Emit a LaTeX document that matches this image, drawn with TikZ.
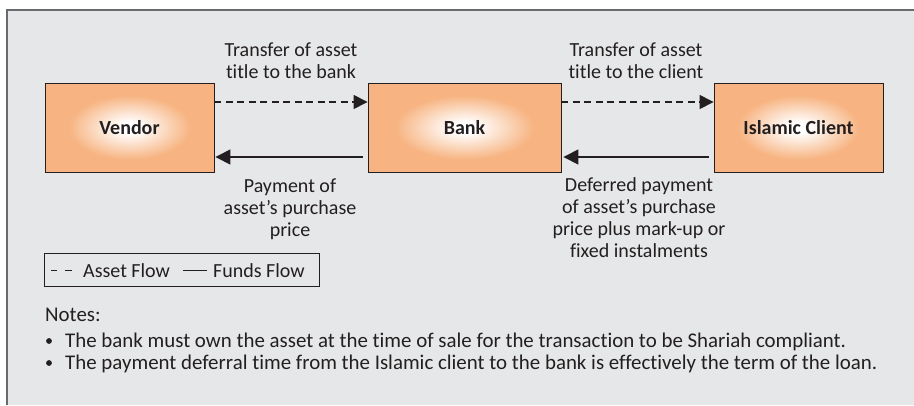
\documentclass[tikz,border=0pt]{standalone}
\usepackage{fontspec}
\setmainfont{Carlito}[Ligatures={TeX,NoCommon}]
\usetikzlibrary{arrows.meta}
\definecolor{panelgray}{RGB}{230,231,232}
\definecolor{panelline}{RGB}{105,106,109}
\definecolor{boxorange}{RGB}{247,180,130}
\definecolor{ink}{RGB}{35,31,32}
\pgfdeclareradialshading{boxshade}{\pgfpoint{0bp}{0bp}}{color(0bp)=(white); color(3bp)=(white); color(18bp)=(boxorange); color(25bp)=(boxorange); color(50bp)=(boxorange)}
\tikzset{
  party/.style={draw=ink, line width=0.8pt, shading=boxshade, minimum height=89pt, inner sep=0pt,
    font=\fontsize{20}{22}\selectfont\bfseries, text=ink},
  lbl/.style={align=center, inner sep=0pt, anchor=base, font=\fontsize{20}{21.7}\selectfont, text=ink},
  asset/.style={draw=ink, line width=1.1pt, dash pattern=on 7pt off 4.5pt, -{Triangle[length=14pt,width=14pt]}},
  funds/.style={draw=ink, line width=1.1pt, -{Triangle[length=15pt,width=15pt]}},
  note/.style={anchor=base west, inner sep=0pt, font=\fontsize{20}{22}\selectfont, text=ink},
  bignote/.style={note, font=\fontsize{20.9}{22}\selectfont}
}
\begin{document}
\begin{tikzpicture}[x=1pt,y=-1pt]
\useasboundingbox (0,0) rectangle (914,405);
% panel
\fill[panelgray] (7,10) rectangle (914,405);
\draw[panelline, line width=1.3pt] (7,405) -- (7,10);
\draw[panelline, line width=2.2pt] (6.35,10) -- (914,10);
% parties
\node[party, minimum width=169pt] (vendor) at (129.5,127.5) {Vendor};
\node[party, minimum width=193pt] (bank) at (464.5,127.5) {Bank};
\node[party, minimum width=169pt] (client) at (798.5,127.5) {Islamic Client};
% flows
\draw[asset] ([yshift=25.5pt]vendor.east) -- ([yshift=25.5pt]bank.west);
\draw[asset] ([yshift=25.5pt]bank.east) -- ([yshift=25.5pt]client.west);
\coordinate (f1s) at ([xshift=-5pt,yshift=-29.5pt]bank.west);
\coordinate (f2s) at ([xshift=-5pt,yshift=-29.5pt]client.west);
\draw[funds] (f1s) -- ([xshift=1pt,yshift=-29.5pt]vendor.east);
\draw[funds] (f2s) -- ([xshift=2pt,yshift=-29.5pt]bank.east);
% labels (anchor base = last line baseline)
\node[lbl] (l1) at (291,78) {Transfer of asset\\title to the bank};
\node[lbl] (l2) at (636,78) {Transfer of asset\\title to the client};
\node[lbl] (l3) at (290,236) {Payment of\\asset’s purchase\\price};
\node[lbl] (l4) at (639,257) {Deferred payment\\of asset’s purchase\\price plus mark-up or\\fixed instalments};
% legend
\node[draw=ink, line width=0.8pt, minimum width=275pt, minimum height=33pt, inner sep=0pt] (legend) at (181.5,269.5) {};
\draw[ink, line width=0.9pt] (51,270.5) -- (57,270.5) (65,270.5) -- (72,270.5);
\node[note] (lasset) at (83,277) {Asset Flow};
\draw[ink, line width=0.9pt] (183,270.5) -- (207,270.5);
\node[note] (lfunds) at (213,277) {Funds Flow};
% notes
\node[bignote] (notes) at (45,321) {Notes:};
\node[bignote] (n1) at (65,347) {The bank must own the asset at the time of sale for the transaction to be Shariah compliant.};
\node[bignote] (n2) at (65,369) {The payment deferral time from the Islamic client to the bank is effectively the term of the loan.};
\fill[ink] (49,341) circle (2.9pt);
\fill[ink] (49,363) circle (2.9pt);
\end{tikzpicture}
\end{document}
